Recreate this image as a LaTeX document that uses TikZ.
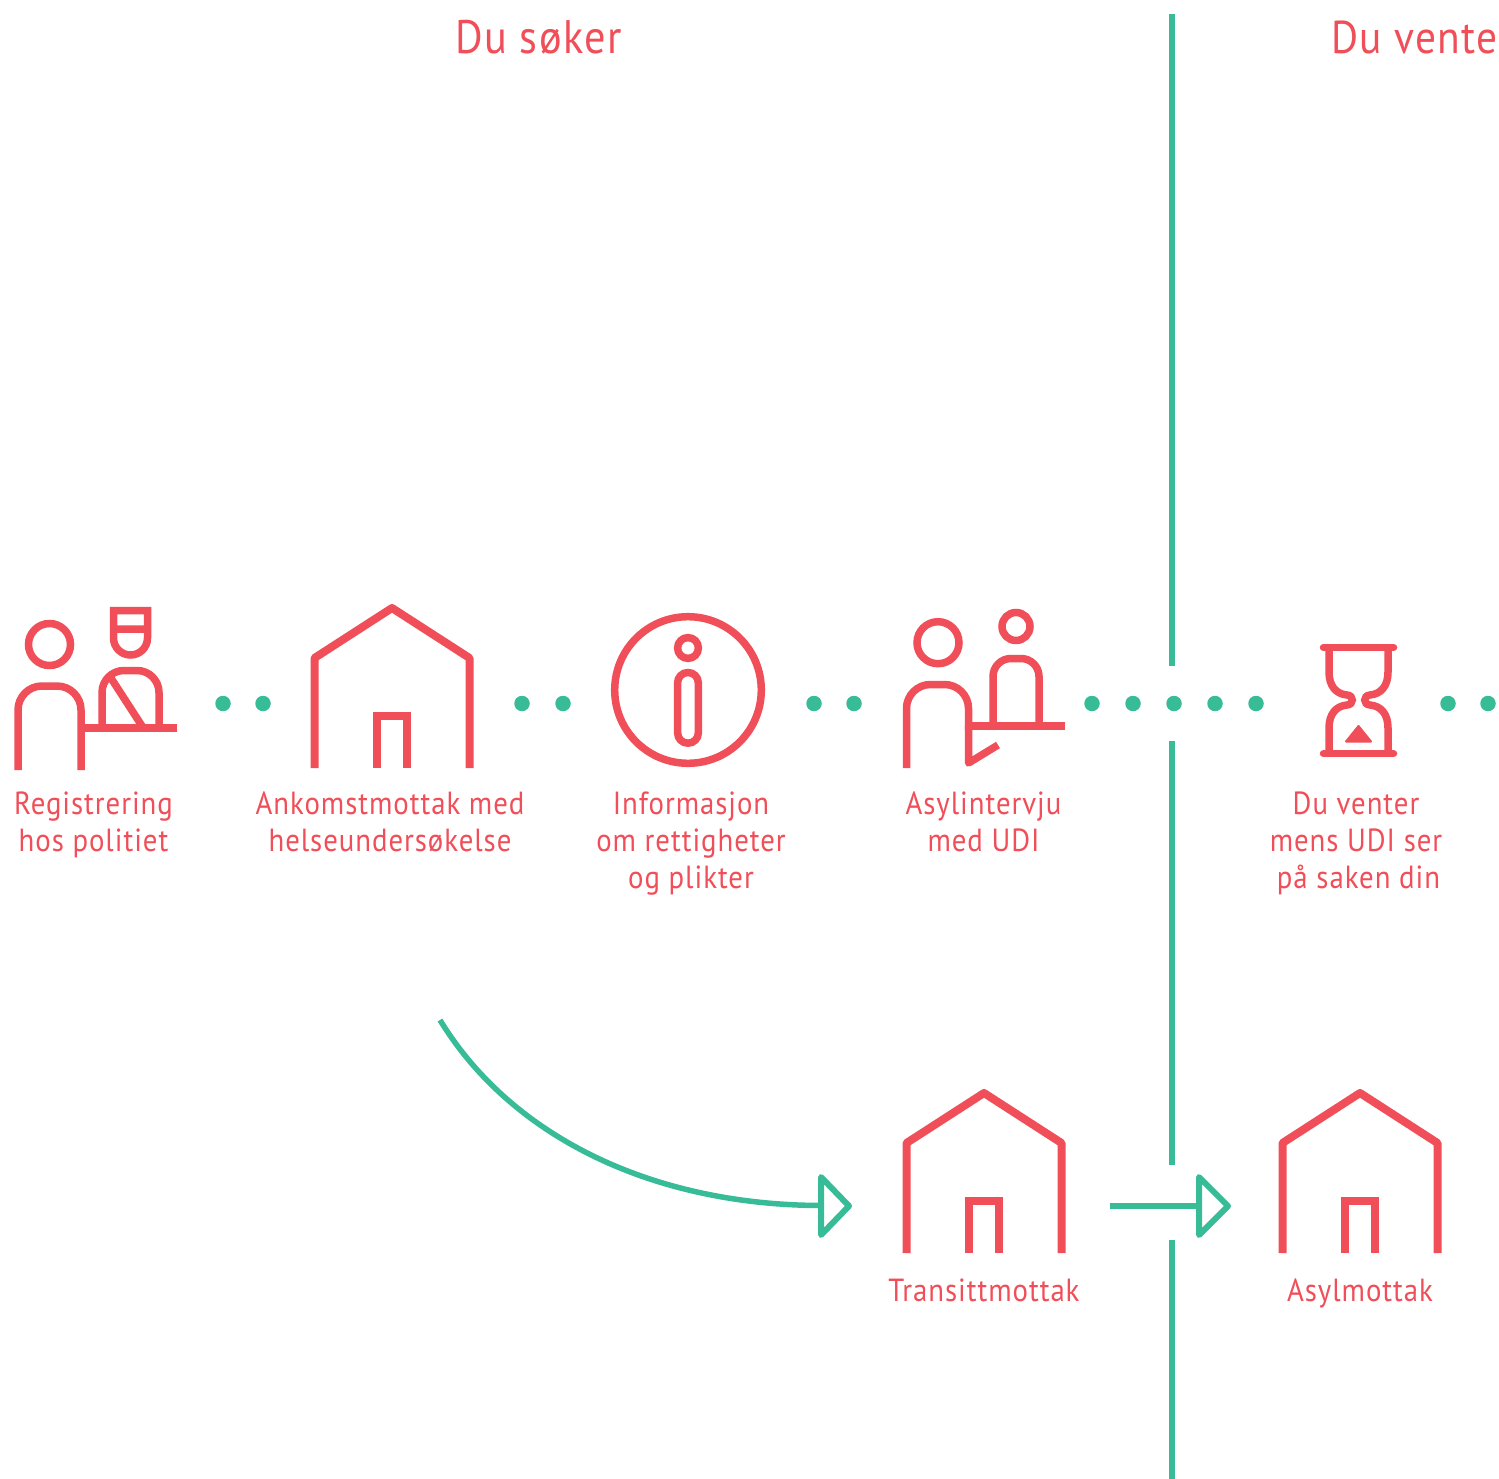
\documentclass[tikz,border=0pt]{standalone}
\usepackage{fontspec}
\setmainfont[FakeStretch=0.9,LetterSpace=3]{PT Sans}
\definecolor{rd}{HTML}{F04E58}
\definecolor{gn}{HTML}{38BC98}
\tikzset{
  icon/.style={draw=rd,line width=7.5pt,miter limit=10},
  lab/.style={text=rd,font=\fontsize{32}{37}\selectfont,align=center,inner sep=0pt,anchor=north},
  head/.style={text=rd,font=\fontsize{46}{50}\selectfont,inner sep=0pt},
  dot/.style={circle,fill=gn,minimum size=15.5pt,inner sep=0pt},
  rule/.style={draw=gn,line width=6pt},
  flow/.style={draw=gn,line width=5.5pt},
  tip/.style={draw=gn,line width=6pt,line join=round},
  pics/house/.style={code={
    \draw[icon,line width=8pt,line join=round] (-77.5,160) -- (-77.5,50) -- (0,0) -- (77.5,50) -- (77.5,160);
    \draw[icon,line width=7.5pt] (-15,160) -- (-15,108) -- (15,108) -- (15,160);
  }}
}
\begin{document}
\begin{tikzpicture}[x=1pt,y=-1pt]
\useasboundingbox (0,0) rectangle (1499,1479);
% headings
\node[head,anchor=base west,font=\fontsize{47}{50}\selectfont] (h1) at (455,54) {Du søker};
\node[head,anchor=base east] (h2) at (1498,54) {Du vente};
% vertical rule
\coordinate (r1) at (1172,14); \coordinate (r2) at (1172,666);
\coordinate (r3) at (1172,741); \coordinate (r4) at (1172,1165);
\coordinate (r5) at (1172,1240); \coordinate (r6) at (1172,1479);
\draw[rule] (r1) -- (r2); \draw[rule] (r3) -- (r4); \draw[rule] (r5) -- (r6);
% person + officer
\draw[icon] (49.5,644.5) circle (21);
\draw[icon,rounded corners=24pt] (18,770) -- (18,686) -- (81,686) -- (81,770);
\draw[icon,line width=8pt] (81,728) -- (177,728);
\draw[icon,rounded corners=22pt] (102,728) -- (102,670.5) -- (159,670.5) -- (159,728);
\draw[icon] (109,675) -- (142,726);
\draw[icon] (113.5,629) -- (113.5,610.5) -- (147.5,610.5) -- (147.5,638) arc (0:180:17) -- (113.5,629) -- (147.5,629);
% house 1
\pic at (392,608) {house};
% info
\draw[icon] (688,690) circle (73.3);
\draw[icon] (688,648) circle (10.4);
\draw[icon,rounded corners=10.3pt] (677.6,672.5) rectangle (698.3,743.2);
% person + interviewer
\draw[icon] (938,642.7) circle (21);
\draw[icon,rounded corners=24pt] (906.5,768) -- (906.5,684.5) -- (968.5,684.5) -- (968.5,730);
\draw[icon,line join=round] (968.5,725) -- (968.5,763) -- (998,745);
\draw[icon] (968.5,726) -- (1065,726);
\draw[icon] (1016,626.5) circle (14);
\draw[icon,rounded corners=18pt] (993,726) -- (993,658.5) -- (1039,658.5) -- (1039,726);
% hourglass
\draw[icon,line cap=round] (1323.5,647.5) -- (1393.5,647.5);
\draw[icon,line cap=round] (1323.5,753.7) -- (1393.5,753.7);
\draw[icon] (1329,647.5) -- (1329,672) .. controls (1329,686) and (1336,694) .. (1347,695) .. controls (1354,695.5) and (1354,704.5) .. (1347,705) .. controls (1336,706) and (1329,714) .. (1329,728) -- (1329,753.7);
\draw[icon] (1388,647.5) -- (1388,672) .. controls (1388,686) and (1381,694) .. (1370,695) .. controls (1363,695.5) and (1363,704.5) .. (1370,705) .. controls (1381,706) and (1388,714) .. (1388,728) -- (1388,753.7);
\fill[rd,draw=rd,line width=2pt,line join=round] (1358.5,726) -- (1371,741.5) -- (1346,741.5) -- cycle;
% dots
\foreach \n/\x in {a/223,b/263,c/522,d/563,e/814,f/854,g/1092,h/1133,i/1174,j/1215,k/1256,l/1448,m/1488}
  \node[dot] (dot\n) at (\x,703.5) {};
% labels
\node[lab] (l1) at (93.5,792) {Registrering\\hos politiet};
\node[lab] (l2) at (390,792) {Ankomstmottak med\\helseundersøkelse};
\node[lab] (l3) at (691,792) {Informasjon\\om rettigheter\\og plikter};
\node[lab] (l4) at (983.5,792) {Asylintervju\\med UDI};
\node[lab] (l5) at (1356,792) {Du venter\\mens UDI ser\\\hspace*{5pt}på saken din};
\node[lab] (l6) at (984,1279) {Transittmottak};
\node[lab] (l7) at (1360,1279) {Asylmottak};
% houses 2, 3
\pic at (984,1093) {house};
\pic at (1360,1093) {house};
% flows
\coordinate (c1) at (440,1020); \coordinate (c2) at (821,1205.5);
\coordinate (c3) at (1109.5,1206); \coordinate (c4) at (1199,1206);
\draw[flow] (c1) .. controls (510,1135) and (650,1205) .. (c2);
\draw[flow] (c3) -- (c4);
\draw[tip] (821,1177) -- (849,1206) -- (821,1235) -- cycle;
\draw[tip] (1199,1177) -- (1228,1206) -- (1199,1235) -- cycle;
\end{tikzpicture}
\end{document}
